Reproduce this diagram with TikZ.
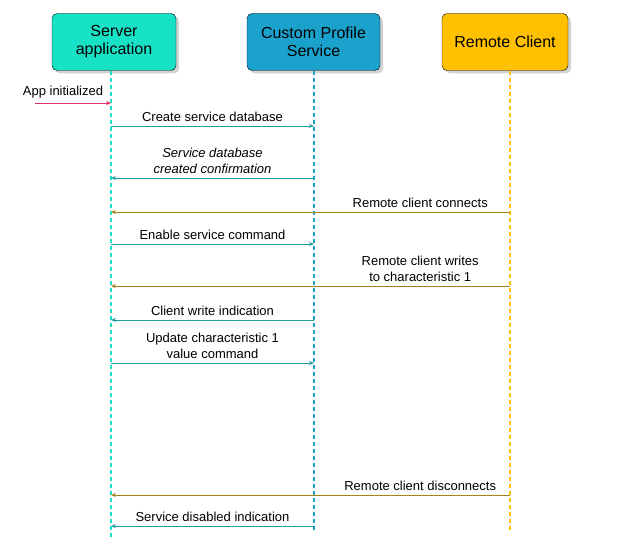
\documentclass[tikz,border=0pt]{standalone}
\usepackage{fontspec}
\setmainfont{Liberation Sans}
\usetikzlibrary{shadows,arrows.meta}
\definecolor{cs}{HTML}{17E2C6}
\definecolor{cc}{HTML}{1AA2CD}
\definecolor{cr}{HTML}{FFC000}
\definecolor{as}{HTML}{1E9E9E}
\definecolor{ar}{HTML}{A8801E}
\definecolor{ap}{HTML}{E0306A}
\begin{document}
\begin{tikzpicture}[x=1pt,y=-1pt,
 box/.style={draw=black,rounded corners=5pt,minimum width=124pt,minimum height=57pt,align=center,font=\fontsize{16}{18}\selectfont,drop shadow={opacity=0.35,shadow xshift=3pt,shadow yshift=-3pt}},
 life/.style={dashed,line width=1.1pt,dash pattern=on 4pt off 3pt},
 msg/.style={-{Stealth[length=5pt,width=4pt]},line width=0.9pt},
 lab/.style={text=black,font=\fontsize{13}{16}\selectfont,align=center,anchor=south,inner sep=4pt}]
\useasboundingbox (0,0) rectangle (617,553);
\node[box,fill=cs] (S) at (114,42) {Server\\application};
\node[box,fill=cc,minimum width=133pt] (C) at (313.5,42) {Custom Profile\\Service};
\node[box,fill=cr,minimum width=126pt] (R) at (505,42) {Remote Client};
\coordinate (Se) at (111,537); \coordinate (Ce) at (314,530); \coordinate (Re) at (510,530);
\coordinate (St) at (111,71); \coordinate (Ct) at (314,71); \coordinate (Rt) at (510,71);
\draw[life,cs] (St)--(Se);
\draw[life,cc] (Ct)--(Ce);
\draw[life,cr] (Rt)--(Re);
\foreach \n/\y in {a/103,b/126,c/178,d/212,e/244,f/286,g/320,h/363,i/495,j/526}{
 \coordinate (s\n) at (111,\y); \coordinate (c\n) at (314,\y); \coordinate (r\n) at (510,\y);}
\coordinate (p0) at (35,103);
\draw[msg,ap] (p0) -- (sa) node[lab,midway,xshift=-10pt] {App initialized};
\draw[msg,as] (sb) -- (cb) node[lab,midway] {Create service database};
\draw[msg,as] (cc) -- (sc) node[lab,midway,font=\fontsize{13}{16}\selectfont\itshape] {Service database\\created confirmation};
\draw[msg,ar] (rd) -- (sd) node[lab,pos=0.225] {Remote client connects};
\draw[msg,as] (se) -- (ce) node[lab,midway] {Enable service command};
\draw[msg,ar] (rf) -- (sf) node[lab,pos=0.225] {Remote client writes\\to characteristic 1};
\draw[msg,as] (cg) -- (sg) node[lab,midway] {Client write indication};
\draw[msg,as] (sh) -- (ch) node[lab,midway] {Update characteristic 1\\value command};
\draw[msg,ar] (ri) -- (si) node[lab,pos=0.225] {Remote client disconnects};
\draw[msg,as] (cj) -- (sj) node[lab,midway] {Service disabled indication};
\end{tikzpicture}
\end{document}
